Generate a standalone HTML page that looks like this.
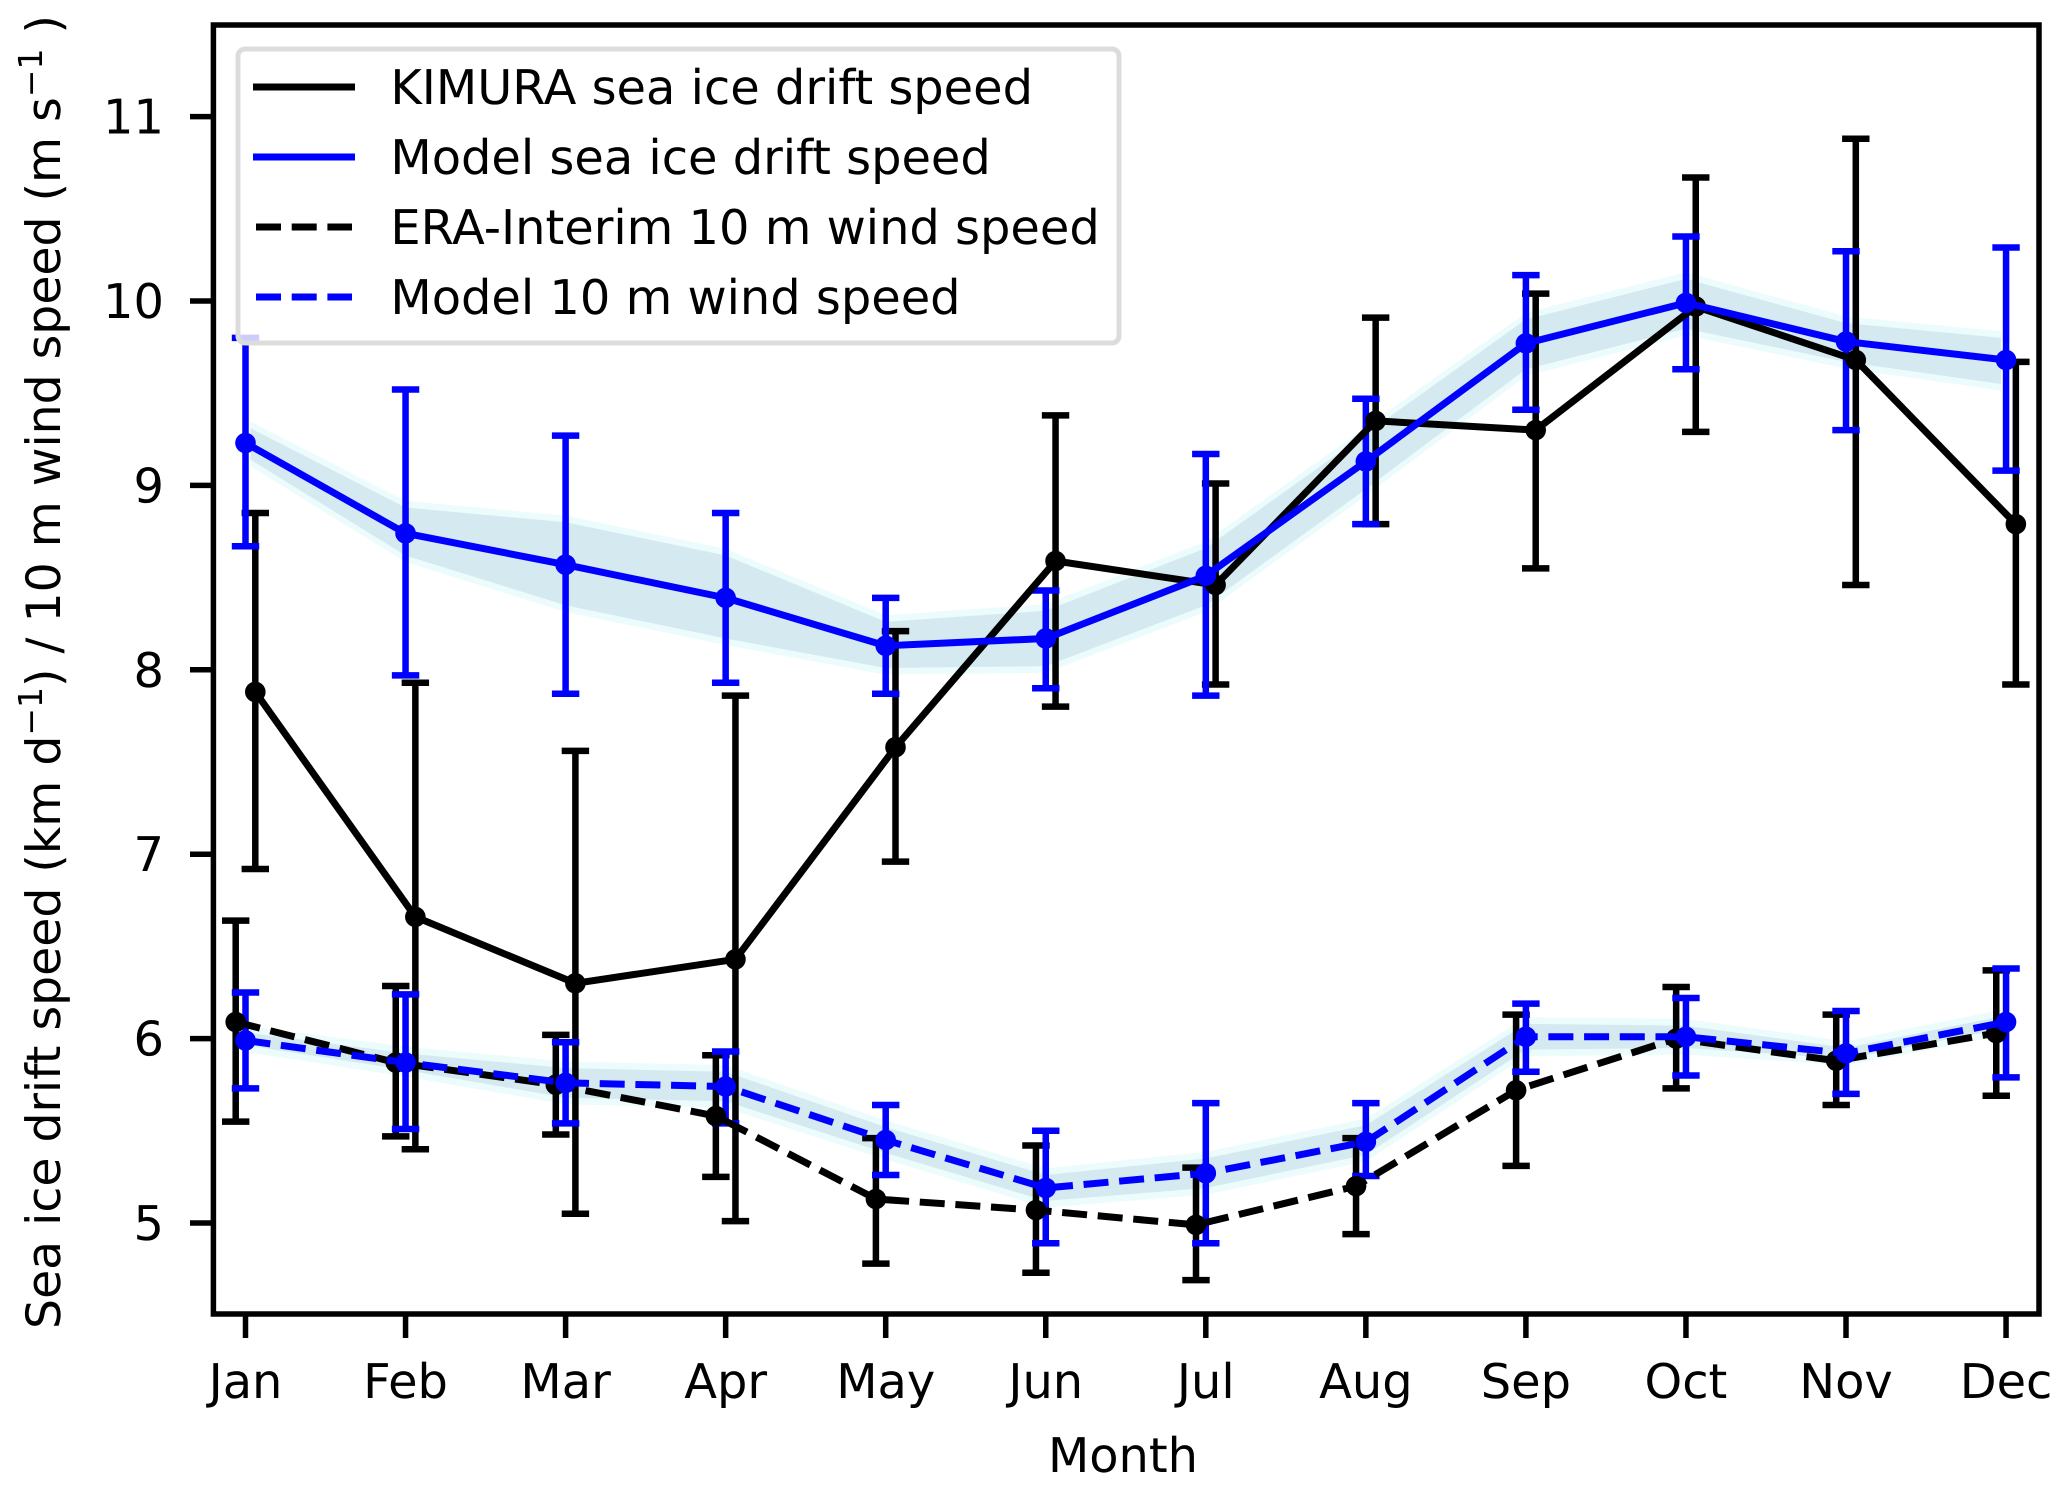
<!DOCTYPE html>
<html lang="en">
<head>
<meta charset="utf-8">
<title>Sea ice drift speed and 10 m wind speed by month</title>
<style>
html,body{margin:0;padding:0;background:#fff;}
svg{display:block;}
text{font-family:"DejaVu Sans",sans-serif;fill:#000;font-size:47.9px;text-rendering:geometricPrecision;}
</style>
</head>
<body>
<svg id="chart" xmlns="http://www.w3.org/2000/svg" width="2067" height="1490" viewBox="0 0 2067 1490">
  <rect x="213" y="25" width="1826" height="1289" fill="#fff"/>
  <g id="bands"></g>
  <g id="errorbars"></g>
  <g id="series"></g>
  <rect x="213.4" y="25" width="1825.6" height="1289" fill="none" stroke="#000" stroke-width="5.5"/>
  <g id="yticks"></g>
  <g id="xticks"></g>
  <text x="1123" y="1472" text-anchor="middle">Month</text>
  <text transform="translate(60,672) rotate(-90)" text-anchor="middle" xml:space="preserve" style="font-size:47.3px">Sea ice drift speed (km d<tspan dy="-18" font-size="33">−1</tspan><tspan dy="18">) / 10 m wind speed (m s</tspan><tspan dy="-18" font-size="33">−1</tspan><tspan dy="18"> )</tspan></text>
  <g>
    <rect x="238" y="49" width="881" height="294" rx="7" ry="7" fill="#fff" fill-opacity="0.8" stroke="#dcdcdc" stroke-width="5"/>
    <line x1="253" y1="87" x2="355" y2="87" stroke="#000" stroke-width="7"/>
    <text x="390.4" y="104">KIMURA sea ice drift speed</text>
    <line x1="253" y1="157" x2="355" y2="157" stroke="#0000ff" stroke-width="7"/>
    <text x="390.4" y="174">Model sea ice drift speed</text>
    <line x1="256" y1="227" x2="352" y2="227" stroke="#000" stroke-width="7" stroke-dasharray="25 10.7"/>
    <text x="390.4" y="244">ERA-Interim 10 m wind speed</text>
    <line x1="256" y1="297" x2="352" y2="297" stroke="#0000ff" stroke-width="7" stroke-dasharray="25 10.7"/>
    <text x="390.4" y="314">Model 10 m wind speed</text>
  </g>
</svg>
<script>
const months = ['Jan','Feb','Mar','Apr','May','Jun','Jul','Aug','Sep','Oct','Nov','Dec'];
const yTickValues = [5,6,7,8,9,10,11];

const kimuraMean  = [7.88,6.66,6.30,6.43,7.58,8.59,8.46,9.35,9.30,9.97,9.68,8.79];
const kimuraUpper = [8.85,7.93,7.56,7.86,8.21,9.38,9.01,9.91,10.04,10.67,10.88,9.67];
const kimuraLower = [6.92,5.40,5.05,5.01,6.96,7.80,7.92,8.79,8.55,9.29,8.46,7.92];

const modelIceMean  = [9.23,8.74,8.57,8.39,8.13,8.17,8.51,9.13,9.77,9.99,9.78,9.68];
const modelIceUpper = [9.80,9.52,9.27,8.85,8.39,8.43,9.17,9.47,10.14,10.35,10.27,10.29];
const modelIceLower = [8.67,7.97,7.87,7.93,7.87,7.90,7.86,8.79,9.41,9.63,9.30,9.08];
const modelIceBandHigh = [9.31,8.88,8.80,8.62,8.26,8.32,8.66,9.28,9.90,10.12,9.88,9.80];
const modelIceBandLow  = [9.14,8.62,8.35,8.17,8.01,8.02,8.35,8.98,9.63,9.85,9.67,9.55];

const eraMean  = [6.09,5.87,5.75,5.58,5.13,5.07,4.99,5.20,5.72,6.00,5.88,6.03];
const eraUpper = [6.64,6.285,6.02,5.91,5.46,5.42,5.30,5.46,6.13,6.28,6.13,6.37];
const eraLower = [5.55,5.47,5.48,5.25,4.78,4.73,4.69,4.94,5.31,5.73,5.64,5.69];

const modelWindMean  = [5.99,5.87,5.76,5.74,5.45,5.19,5.27,5.44,6.01,6.01,5.92,6.09];
const modelWindUpper = [6.25,6.24,5.98,5.93,5.64,5.50,5.65,5.65,6.19,6.22,6.15,6.38];
const modelWindLower = [5.73,5.51,5.54,5.54,5.26,4.89,4.89,5.255,5.82,5.80,5.70,5.79];
const modelWindBandHigh = [6.03,5.92,5.84,5.82,5.52,5.26,5.35,5.53,6.08,6.07,5.95,6.12];
const modelWindBandLow  = [5.96,5.83,5.68,5.66,5.38,5.12,5.19,5.37,5.94,5.95,5.89,6.05];

const SVGNS = 'http://www.w3.org/2000/svg';
function xScale(m){ return 245.5 + 160.05 * m; }
function yScale(v){ return 1223 - (v - 5) * 184.4; }
function make(tag, parent, attrs){
  const el = document.createElementNS(SVGNS, tag);
  for (const k in attrs) el.setAttribute(k, attrs[k]);
  parent.appendChild(el);
  return el;
}

const yAxisGroup = document.getElementById('yticks');
yTickValues.forEach(function(v){
  const tick = make('line', yAxisGroup, {x1:190, x2:213, y1:yScale(v), y2:yScale(v), stroke:'#000', 'stroke-width':5.5});
  
  
  const label = make('text', yAxisGroup, {x:164, y:yScale(v)+17, 'text-anchor':'end'});
  
  
  label.textContent = String(v);
});

const xAxisGroup = document.getElementById('xticks');
months.forEach(function(name, i){
  const tick = make('line', xAxisGroup, {x1:xScale(i), x2:xScale(i), y1:1314, y2:1338, stroke:'#000', 'stroke-width':5.5});
  
  
  const label = make('text', xAxisGroup, {x:xScale(i), y:1398, 'text-anchor':'middle'});
  
  
  label.textContent = name;
});

function bandX(i, n){
  if (i === 0) return xScale(i) + 5;
  if (i === n - 1) return xScale(i) - 5;
  return xScale(i);
}
function drawBand(high, low, pad, fill, name){
  const group = document.getElementById('bands');
  const n = high.length;
  const pts = [];
  for (let i = 0; i < n; i++) pts.push(bandX(i, n) + ',' + yScale(high[i] + pad));
  for (let i = n - 1; i >= 0; i--) pts.push(bandX(i, n) + ',' + yScale(low[i] - pad));
  const poly = make('polygon', group, {points:pts.join(' '), fill:fill});
  
  
}
drawBand(modelIceBandHigh, modelIceBandLow, 0.036, '#ecfbfc', 'model-ice-band-outer');
drawBand(modelIceBandHigh, modelIceBandLow, 0, '#d5e9f0', 'model-ice-band-inner');
drawBand(modelWindBandHigh, modelWindBandLow, 0.036, '#ecfbfc', 'model-wind-band-outer');
drawBand(modelWindBandHigh, modelWindBandLow, 0, '#d5e9f0', 'model-wind-band-inner');

function drawErrorBars(mean, upper, lower, offset, color, name){
  const group = document.getElementById('errorbars');
  mean.forEach(function(v, i){
    const x = xScale(i) + offset;
    const bar = make('line', group, {x1:x, x2:x, y1:yScale(upper[i]), y2:yScale(lower[i]), stroke:color, 'stroke-width':6.5});
    
    
    const capTop = make('line', group, {x1:x-13.7, x2:x+13.7, y1:yScale(upper[i]), y2:yScale(upper[i]), stroke:color, 'stroke-width':6.5});
    
    
    const capBottom = make('line', group, {x1:x-13.7, x2:x+13.7, y1:yScale(lower[i]), y2:yScale(lower[i]), stroke:color, 'stroke-width':6.5});
    
    
  });
}
function drawLine(mean, offset, color, dashed, name){
  const group = document.getElementById('series');
  const g = make('g', group, {});
  
  
  const pts = mean.map(function(v, i){ return (xScale(i) + offset) + ',' + yScale(v); }).join(' ');
  const lineAttrs = {points:pts, fill:'none', stroke:color, 'stroke-width':7, 'stroke-linejoin':'round'};
  if (dashed) lineAttrs['stroke-dasharray'] = '25 10.7';
  const line = make('polyline', g, lineAttrs);
  
  
  mean.forEach(function(v, i){
    const dot = make('circle', g, {cx:xScale(i) + offset, cy:yScale(v), r:10.3, fill:color});
    
    
  });
}
drawErrorBars(kimuraMean, kimuraUpper, kimuraLower, 9.8, '#000', 'kimura-ice-drift');
drawErrorBars(eraMean, eraUpper, eraLower, -9.8, '#000', 'era-interim-wind');
drawErrorBars(modelIceMean, modelIceUpper, modelIceLower, 0, '#0000ff', 'model-ice-drift');
drawErrorBars(modelWindMean, modelWindUpper, modelWindLower, 0, '#0000ff', 'model-wind');
drawLine(kimuraMean, 9.8, '#000', false, 'kimura-ice-drift');
drawLine(eraMean, -9.8, '#000', true, 'era-interim-wind');
drawLine(modelIceMean, 0, '#0000ff', false, 'model-ice-drift');
drawLine(modelWindMean, 0, '#0000ff', true, 'model-wind');
</script>
</body>
</html>
